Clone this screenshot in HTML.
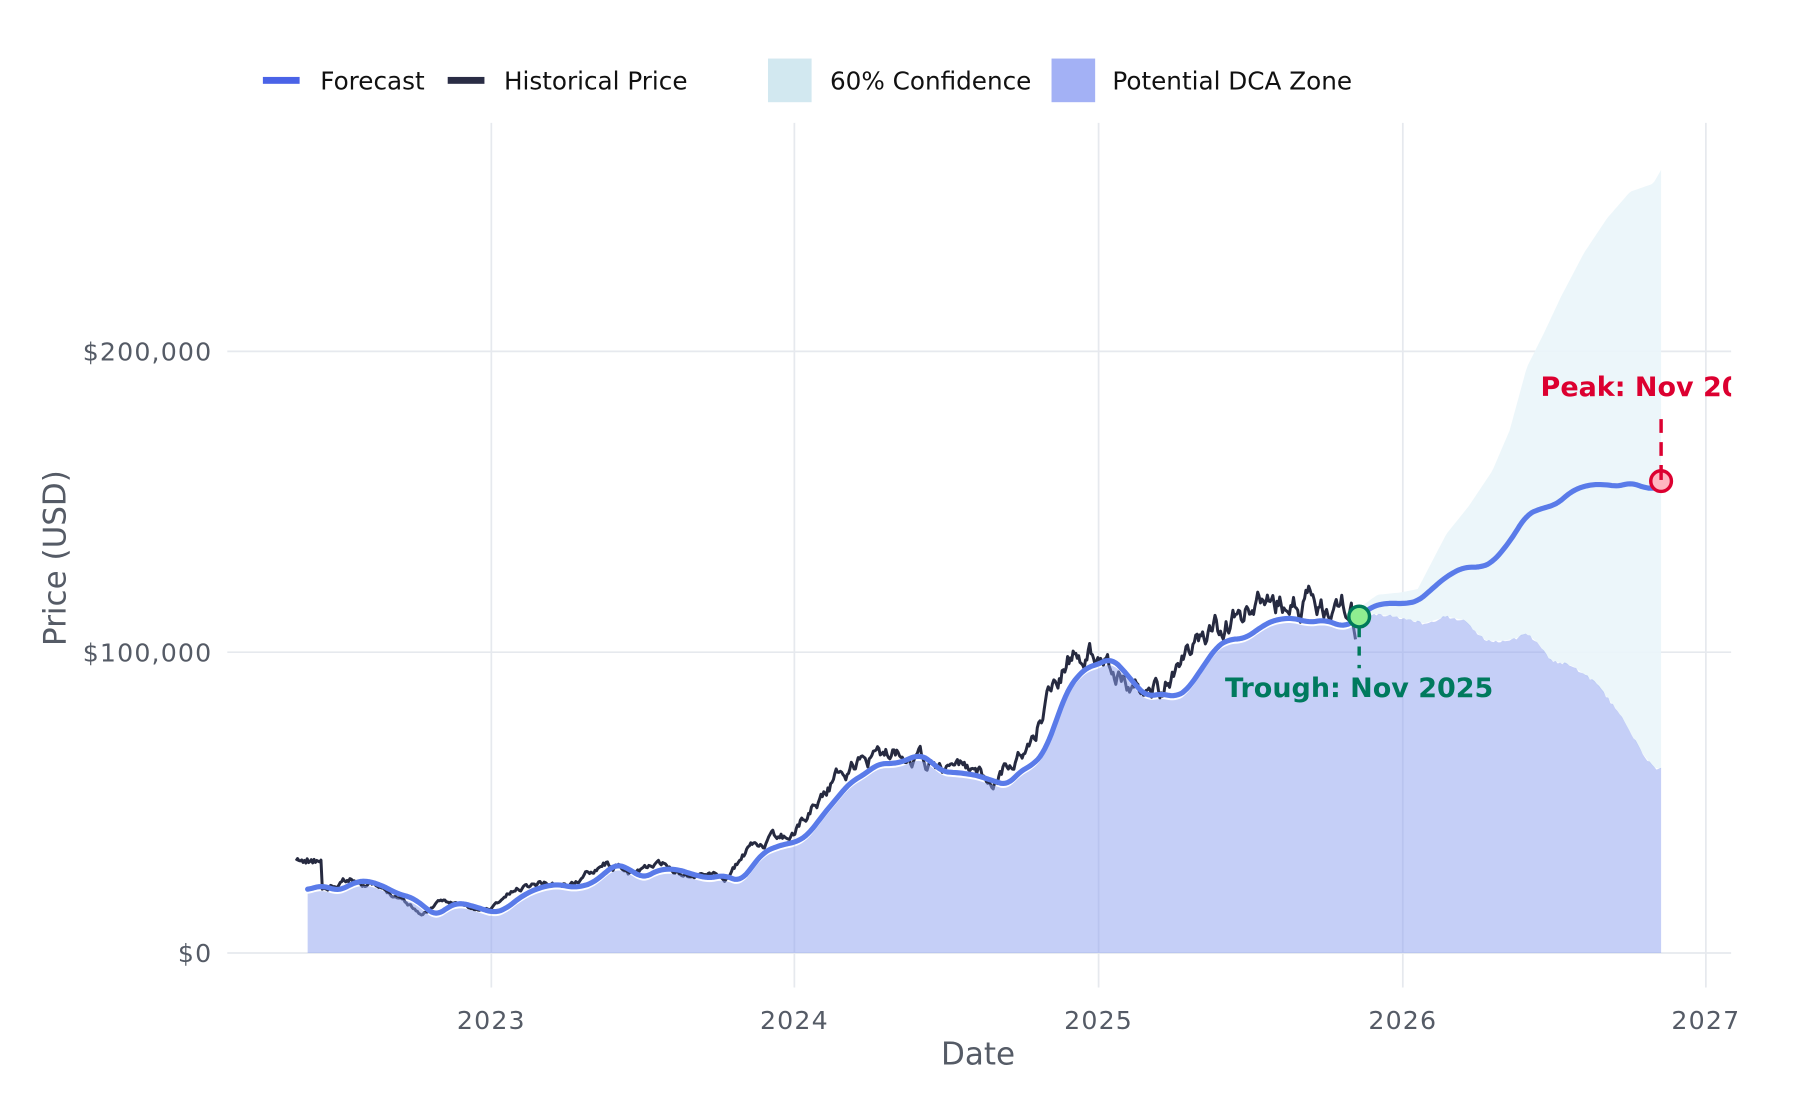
<!DOCTYPE html>
<html><head><meta charset="utf-8"><style>
html,body{margin:0;padding:0;background:#fff;}
svg{display:block;}
text{font-family:"DejaVu Sans","Liberation Sans",sans-serif;}
</style></head><body>
<svg id="s" width="1800" height="1100" viewBox="0 0 1568 958" preserveAspectRatio="none" xmlns="http://www.w3.org/2000/svg">
<g stroke="#e6e9ee" stroke-width="1.5">
<line x1="198" y1="306" x2="1508" y2="306"/><line x1="198" y1="568" x2="1508" y2="568"/><line x1="198" y1="830" x2="1508" y2="830"/>
<line x1="428" y1="107" x2="428" y2="860"/><line x1="692" y1="107" x2="692" y2="860"/><line x1="957" y1="107" x2="957" y2="860"/><line x1="1222" y1="107" x2="1222" y2="860"/><line x1="1486" y1="107" x2="1486" y2="860"/>
</g>
<path id="conf" fill="#eaf5f9" opacity="0.9"/>
<path id="hist" fill="none" stroke="#262a40" stroke-width="2.6" stroke-linejoin="round"/>
<path id="dca" fill="rgba(140,160,240,0.5)"/>
<path id="fc" fill="none" stroke="#5a7be9" stroke-width="4.5" stroke-linejoin="round" stroke-linecap="round"/>
<g font-size="22" fill="#555b66" text-anchor="end" letter-spacing="1">
<text x="185" y="314">$200,000</text><text x="185" y="576">$100,000</text><text x="185" y="838">$0</text>
</g>
<g font-size="22" fill="#555b66" text-anchor="middle" letter-spacing="1">
<text x="428" y="896">2023</text><text x="692" y="896">2024</text><text x="957" y="896">2025</text><text x="1222" y="896">2026</text><text x="1486" y="896">2027</text>
</g>
<g font-size="27" fill="#555b66" text-anchor="middle">
<text x="852" y="927">Date</text>
<text transform="translate(57,486) rotate(-90)">Price (USD)</text>
</g>
<g font-size="21.5" fill="#111">
<rect x="229" y="67" width="32" height="6" fill="#4a63e7"/><text x="279" y="78">Forecast</text>
<rect x="390" y="67" width="32" height="6" fill="#2a2d45"/><text x="439" y="78">Historical Price</text>
<rect x="669" y="51" width="38" height="38" fill="#d2e8f0"/><text x="723" y="78">60% Confidence</text>
<rect x="916" y="51" width="38" height="38" fill="#a3b1f5"/><text x="969" y="78">Potential DCA Zone</text>
</g>
<line x1="1184" y1="547" x2="1184" y2="582" stroke="#007a5a" stroke-width="3" stroke-dasharray="8,8"/>
<circle cx="1184" cy="537" r="9" fill="#90ee90" stroke="#007a5a" stroke-width="3"/>
<text x="1184" y="607" font-size="23.5" font-weight="bold" fill="#007a5e" text-anchor="middle">Trough: Nov 2025</text>
<line x1="1447" y1="365" x2="1447" y2="418" stroke="#dc0030" stroke-width="3" stroke-dasharray="12,8"/>
<circle cx="1447" cy="419" r="9" fill="#ffb6c1" stroke="#dc0030" stroke-width="3"/>
<line x1="1447" y1="410" x2="1447" y2="418" stroke="#dc0030" stroke-width="3"/>
<svg x="0" y="300" width="1508" height="60" viewBox="0 300 1508 60" overflow="hidden"><text x="1342" y="345" font-size="23.5" font-weight="bold" fill="#dc0030">Peak: Nov 2026</text></svg>
</svg>
<script>
var F=[[268,775],[280,771],[295,776],[310,768],[320,767],[335,772],[345,778],[360,782],[370,790],[380,798],[390,790],[400,786],[415,790],[430,795],[440,792],[455,780],[470,773],[485,770],[500,773],[515,770],[525,762],[537,752],[550,758],[560,765],[575,757],[590,757],[605,762],[618,765],[630,762],[645,768],[655,755],[665,742],[680,736],[695,733],[705,726],[715,712],[725,700],[740,682],[755,673],[765,665],[780,665],[790,662],[800,657],[810,662],[820,672],[835,673],[850,675],[865,680],[878,684],[888,672],[900,666],[910,655],[920,628],[930,600],[945,582],[958,578],[968,573],[980,585],[990,598],[1000,607],[1010,604],[1025,607],[1035,600],[1045,585],[1060,563],[1070,557],[1085,556],[1100,545],[1110,540],[1125,538],[1140,542],[1155,540],[1170,546],[1180,541],[1195,528],[1210,525],[1220,526],[1235,524],[1245,515],[1260,502],[1275,494],[1290,494],[1300,490],[1315,472],[1330,448],[1345,442],[1355,440],[1370,427],[1385,422],[1400,422],[1410,424],[1420,420],[1430,424],[1440,426],[1447,424]];
function interp(P,x){if(x<=P[0][0])return P[0][1];for(var i=1;i<P.length;i++){if(x<=P[i][0]){var a=P[i-1],b=P[i];return a[1]+(b[1]-a[1])*(x-a[0])/(b[0]-a[0]);}}return P[P.length-1][1];}
function smooth(P,step){var o=[];for(var x=P[0][0];x<=P[P.length-1][0];x+=step){var s=0,c=0;for(var d=-6;d<=6;d+=2){s+=interp(P,x+d);c++;}o.push([x,s/c]);}o.push(P[P.length-1]);return o;}
function pts(P){return P.map(function(p,i){return(i?'L':'M')+p[0].toFixed(1)+' '+p[1].toFixed(1)}).join(' ');}
document.getElementById('fc').setAttribute('d',pts(smooth(F,2)));
var seed=11;function rnd(){seed=(seed*16807)%2147483647;return seed/2147483647;}
var H=[],n=0;
for(var x=258;x<=1182;x+=1.2){
 var base=interp(F,Math.min(x+12,1180));
 n=n*0.8+(rnd()-0.5)*9;
 var scale=(830-base)/220;
 var y=base-8*scale+n*scale*1.6;
 if(x<280)y=750+(rnd()-0.5)*5;
 if(x>1178)y=540+(x-1178)*6;
 H.push([x,y]);}
document.getElementById('hist').setAttribute('d',pts(H));
var L=[[1183,533],[1200,535],[1220,538],[1240,543],[1260,537],[1275,540],[1285,550],[1295,558],[1310,558],[1320,556],[1330,552],[1340,560],[1350,575],[1370,580],[1390,595],[1410,620],[1430,655],[1440,668],[1447,670]];
var U=[[1183,530],[1200,518],[1220,516],[1235,513],[1260,465],[1280,440],[1300,410],[1315,375],[1330,320],[1345,290],[1360,258],[1380,220],[1400,190],[1420,167],[1440,160],[1447,148]];
var D=[];for(var x=268;x<1183;x+=2){var s=0;for(var d=-6;d<=6;d+=2)s+=interp(F,x+d);D.push([x,s/7+4]);}
for(var x=1183;x<=1447;x+=2){D.push([x,interp(L,x)+(rnd()-0.5)*3]);}
document.getElementById('dca').setAttribute('d',pts(D)+' L1447 830 L268 830 Z');
var C=[];for(var x=1183;x<=1447;x+=2)C.push([x,interp(U,x)]);
for(var x=1447;x>=1183;x-=2)C.push([x,interp(L,x)]);
document.getElementById('conf').setAttribute('d',pts(C)+' Z');
</script>
</body></html>
